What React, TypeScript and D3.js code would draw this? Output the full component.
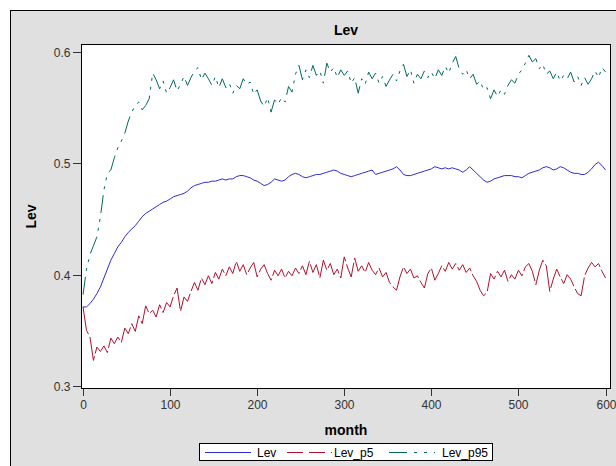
import * as d3 from 'd3';

// month axis: one reading every 4 months
const months = d3.range(0, 601, 4);

const lev = [
  0.371, 0.371, 0.374, 0.378, 0.383, 0.389, 0.397, 0.405, 0.413, 0.419,
  0.425, 0.429, 0.434, 0.438, 0.441, 0.444, 0.448, 0.452, 0.455, 0.457,
  0.459, 0.461, 0.463, 0.465, 0.466, 0.468, 0.470, 0.471, 0.472, 0.473,
  0.475, 0.478, 0.480, 0.481, 0.482, 0.483, 0.483, 0.484, 0.484, 0.485,
  0.486, 0.485, 0.486, 0.486, 0.488, 0.489, 0.489, 0.488, 0.487, 0.485,
  0.484, 0.482, 0.480, 0.481, 0.483, 0.486, 0.485, 0.484, 0.485, 0.488,
  0.490, 0.491, 0.490, 0.488, 0.487, 0.488, 0.489, 0.490, 0.490, 0.491,
  0.492, 0.493, 0.494, 0.493, 0.491, 0.490, 0.489, 0.488, 0.489, 0.490,
  0.491, 0.492, 0.493, 0.494, 0.490, 0.491, 0.492, 0.493, 0.494, 0.495,
  0.497, 0.494, 0.490, 0.489, 0.489, 0.490, 0.491, 0.492, 0.493, 0.494,
  0.495, 0.497, 0.496, 0.495, 0.496, 0.495, 0.496, 0.495, 0.494, 0.492,
  0.494, 0.497, 0.494, 0.491, 0.488, 0.485, 0.483, 0.484, 0.486, 0.487,
  0.488, 0.489, 0.489, 0.489, 0.488, 0.488, 0.487, 0.489, 0.491, 0.492,
  0.493, 0.494, 0.496, 0.497, 0.496, 0.494, 0.495, 0.497, 0.496, 0.494,
  0.492, 0.491, 0.491, 0.490, 0.490, 0.492, 0.495, 0.499, 0.501, 0.498,
  0.494,
];

const levP5 = [
  0.371, 0.350, 0.344, 0.323, 0.335, 0.331, 0.336, 0.330, 0.343, 0.338,
  0.344, 0.339, 0.352, 0.347, 0.356, 0.349, 0.363, 0.356, 0.372, 0.365,
  0.368, 0.362, 0.373, 0.366, 0.375, 0.371, 0.381, 0.388, 0.367, 0.380,
  0.376, 0.385, 0.393, 0.386, 0.397, 0.391, 0.399, 0.392, 0.402, 0.396,
  0.405, 0.399, 0.407, 0.401, 0.412, 0.403, 0.409, 0.400, 0.406, 0.411,
  0.398, 0.405, 0.409, 0.401, 0.395, 0.404, 0.399, 0.405, 0.397, 0.403,
  0.399, 0.406, 0.401, 0.408, 0.400, 0.412, 0.402, 0.409, 0.397, 0.413,
  0.404, 0.410, 0.400, 0.405, 0.397, 0.416, 0.406, 0.398, 0.415, 0.403,
  0.408, 0.402, 0.411, 0.404, 0.400, 0.406, 0.398, 0.402, 0.393, 0.389,
  0.386, 0.398, 0.407, 0.401, 0.405, 0.397, 0.399, 0.393, 0.388, 0.401,
  0.406, 0.395, 0.401, 0.408, 0.403, 0.411, 0.405, 0.410, 0.404, 0.409,
  0.402, 0.406, 0.399, 0.394, 0.386, 0.381, 0.384, 0.401, 0.396, 0.403,
  0.398, 0.404, 0.394, 0.400, 0.396, 0.404, 0.399, 0.407, 0.410, 0.403,
  0.391, 0.404, 0.413, 0.408, 0.385, 0.396, 0.405, 0.398, 0.392, 0.400,
  0.396, 0.389, 0.383, 0.381, 0.399, 0.406, 0.411, 0.407, 0.410, 0.403,
  0.397,
];

const levP95 = [
  0.382, 0.405, 0.418, 0.426, 0.434, 0.452, 0.476, 0.491, 0.494, 0.505,
  0.514, 0.520, 0.527, 0.538, 0.546, 0.552, 0.555, 0.548, 0.552, 0.558,
  0.581, 0.575, 0.567, 0.574, 0.563, 0.568, 0.575, 0.565, 0.571, 0.578,
  0.570, 0.577, 0.583, 0.586, 0.575, 0.581, 0.576, 0.570, 0.578, 0.568,
  0.576, 0.568, 0.572, 0.563, 0.570, 0.567, 0.576, 0.571, 0.573, 0.562,
  0.566, 0.556, 0.551, 0.559, 0.546, 0.557, 0.553, 0.559, 0.555, 0.569,
  0.564, 0.580, 0.588, 0.575, 0.584, 0.577, 0.588, 0.579, 0.583, 0.572,
  0.590, 0.582, 0.586, 0.577, 0.584, 0.579, 0.583, 0.572, 0.577, 0.563,
  0.576, 0.571, 0.582, 0.576, 0.581, 0.572, 0.578, 0.569, 0.575, 0.580,
  0.574, 0.583, 0.589, 0.578, 0.584, 0.572, 0.580, 0.576, 0.583, 0.577,
  0.582, 0.576, 0.584, 0.579, 0.587, 0.581, 0.590, 0.596, 0.585, 0.580,
  0.584, 0.576, 0.580, 0.571, 0.574, 0.566, 0.568, 0.558, 0.566, 0.560,
  0.566, 0.562, 0.570, 0.575, 0.572, 0.580, 0.584, 0.590, 0.597, 0.591,
  0.594, 0.585, 0.589, 0.580, 0.583, 0.576, 0.582, 0.574, 0.579, 0.576,
  0.582, 0.573, 0.578, 0.570, 0.577, 0.571, 0.576, 0.583, 0.577, 0.586,
  0.582,
];

const xTicks = [0, 100, 200, 300, 400, 500, 600];
const yTicks = [0.3, 0.4, 0.5, 0.6];

const series = [
  { name: 'Lev', values: lev, color: '#2b2bd6', dash: undefined as string | undefined, keyDash: undefined as string | undefined },
  { name: 'Lev_p5', values: levP5, color: '#b0122d', dash: '28,3', keyDash: '16,6' },
  { name: 'Lev_p95', values: levP95, color: '#006b5e', dash: '18,6,3,6,3,6', keyDash: '18,7,3,7,3,7' },
];

const FONT = '"Liberation Sans", Arial, Helvetica, sans-serif';

export default function App() {
  const W = 616;
  const H = 466;
  const plot = { left: 81, right: 611, top: 44, bottom: 389 };

  const x = d3.scaleLinear().domain([0, 600]).range([83, 605.5]);
  const y = d3.scaleLinear().domain([0.3, 0.6]).range([386, 52]);

  const line = d3
    .line<number>()
    .x((_, i) => x(months[i]))
    .y((d) => y(d));

  const cx = (plot.left + plot.right) / 2;
  const cy = (plot.top + plot.bottom) / 2;

  // legend item positions inside the box
  const legend = [
    { x1: 205, x2: 251, tx: 257 },
    { x1: 287, x2: 332, tx: 334 },
    { x1: 389, x2: 435, tx: 442 },
  ];

  return (
    <svg
      width={W}
      height={H}
      style={{ position: 'absolute', left: 0, top: 0, display: 'block' }}
      fontFamily={FONT}
    >
      <rect x={0} y={0} width={W} height={H} fill="#ffffff" />
      <rect x={10.5} y={10.5} width={W + 20} height={H + 20} fill="#e0e0e0" stroke="#000" />
      <defs>
        <clipPath id="plotclip">
          <rect x={plot.left} y={plot.top} width={plot.right - plot.left} height={plot.bottom - plot.top} />
        </clipPath>
      </defs>
      <rect
        x={plot.left + 0.5}
        y={plot.top + 0.5}
        width={plot.right - plot.left - 1}
        height={plot.bottom - plot.top - 1}
        fill="#ffffff"
      />

      <text x={cx} y={35} textAnchor="middle" fontSize={14} fontWeight="bold" fill="#000">
        Lev
      </text>

      <g clipPath="url(#plotclip)">
        {series.map((s) => (
          <path
            key={s.name}
            d={line(s.values) ?? undefined}
            fill="none"
            stroke={s.color}
            strokeWidth={1}
            strokeDasharray={s.dash}
          />
        ))}
      </g>

      <rect
        x={plot.left + 0.5}
        y={plot.top + 0.5}
        width={plot.right - plot.left - 1}
        height={plot.bottom - plot.top - 1}
        fill="none"
        stroke="#000"
      />

      {yTicks.map((t) => (
        <g key={t} transform={`translate(0,${Math.round(y(t)) + 0.5})`}>
          <line x1={73} x2={plot.left} stroke="#333" />
          <text x={70.5} y={4} textAnchor="end" fontSize={12} fill="#333">
            {d3.format('.1f')(t)}
          </text>
        </g>
      ))}
      {xTicks.map((t) => (
        <g key={t} transform={`translate(${Math.round(x(t)) + 0.5},0)`}>
          <line y1={plot.bottom} y2={396} stroke="#333" />
          <text y={409} textAnchor="middle" fontSize={12} fill="#333">
            {t}
          </text>
        </g>
      ))}

      <text
        transform={`translate(36,${cy}) rotate(-90)`}
        textAnchor="middle"
        fontSize={14}
        fontWeight="bold"
        fill="#000"
      >
        Lev
      </text>
      <text x={cx} y={435} textAnchor="middle" fontSize={14} fontWeight="bold" fill="#000">
        month
      </text>

      <rect x={199.5} y={443.5} width={293} height={17} fill="#ffffff" stroke="#000" />
      {series.map((s, i) => (
        <g key={s.name}>
          <line
            x1={legend[i].x1}
            x2={legend[i].x2}
            y1={452.5}
            y2={452.5}
            stroke={s.color}
            strokeDasharray={s.keyDash}
          />
          <text x={legend[i].tx} y={456.5} fontSize={12} fill="#000">
            {s.name}
          </text>
        </g>
      ))}
    </svg>
  );
}
